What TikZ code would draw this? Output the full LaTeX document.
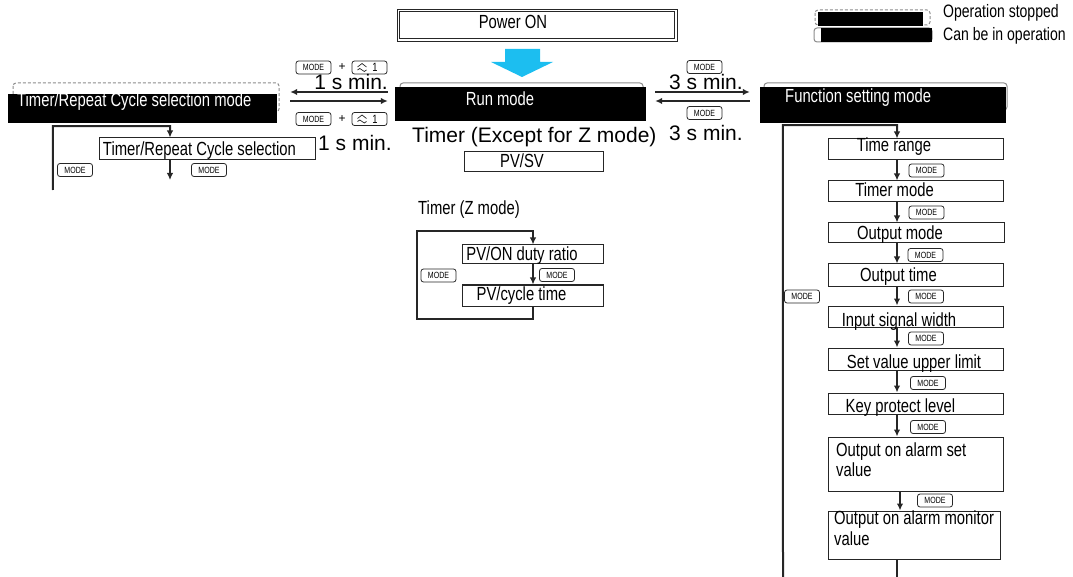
\documentclass[tikz,border=0pt]{standalone}
\usepackage{fontspec}
\setmainfont{Liberation Sans}
\newfontfamily\cond[FakeStretch=0.78]{Liberation Sans}
\usetikzlibrary{arrows.meta,calc}
\definecolor{pwblue}{RGB}{28,190,240}
\begin{document}
\begin{tikzpicture}[x=1pt,y=-1pt,
  lbl/.style={font=\cond\fontsize{19}{20}\selectfont, inner sep=0, anchor=base},
  lblw/.style={lbl, anchor=base west},
  big/.style={font=\fontsize{21}{23}\selectfont, inner sep=0},
  box/.style={draw=black!85, line width=1pt, inner sep=0},
  blk/.style={fill=black, inner sep=0},
  keyb/.style={draw=black!85, line width=0.8pt, rounded corners=2.5pt, minimum width=35pt, minimum height=13pt, inner sep=0, font=\cond\fontsize{9}{9}\selectfont},
  con/.style={line width=2pt, draw=black!85},
  arr/.style={con, -{Latex[length=7pt,width=6.5pt]}},
  gl/.style={draw=black!45, line width=1pt, rounded corners=3pt},
  gld/.style={gl, dash pattern=on 3pt off 2pt},
  sym/.style={line width=0.7pt, draw=black!85},
]
\useasboundingbox (0,0) rectangle (1073,577);

% legend
\draw[gld] (815,10) rectangle (930,25);
\node[blk, minimum width=105pt, minimum height=14pt] (lg1) at (870.5,19) {};
\node[lblw, font=\cond\fontsize{18}{20}\selectfont] (lg1t) at (943,18) {Operation stopped};
\draw[gl] (814,28) rectangle (932,42);
\node[blk, minimum width=111pt, minimum height=14pt] (lg2) at (876.5,35) {};
\node[lblw, font=\cond\fontsize{18}{20}\selectfont] (lg2t) at (943,41) {Can be in operation};

% power on
\node[draw=black!85, line width=0.9pt, minimum width=280pt, minimum height=32pt, inner sep=0] (pw) at (537,25) {};
\draw[black!85, line width=0.9pt] ($(pw.north west)+(3,3)$) rectangle ($(pw.south east)+(-3,-3)$);
\node[lbl] (pwt) at (513,29) {Power ON};
\fill[pwblue] (505,49) -- (540,49) -- (540,62) -- (553,62) -- (522,77) -- (491,62) -- (505,62) -- cycle;

% run mode
\draw[gl] (400,83) rectangle (643,115);
\node[blk, minimum width=251pt, minimum height=34pt] (run) at (520.5,104) {};
\node[lbl, text=white] (runt) at (500,106) {Run mode};
\node[big, anchor=base west] (exc) at (412,143) {Timer (Except for Z mode)};
\node[box, minimum width=139pt, minimum height=20pt] (pvsv) at (533.5,162) {};
\node[lbl] (pvsvt) at (522,168) {PV/SV};

% left mode
\draw[gld] (13,83) rectangle (279,112);
\node[blk, minimum width=269pt, minimum height=29pt] (lm) at (142.5,108.5) {};
\node[lblw, text=white] (lmt) at (17,107) {Timer/Repeat Cycle selection mode};

% left arrows
\draw[arr] ($(run.west)+(-7,-12)$) -- ($(lm.east)+(13,-16.5)$);
\draw[arr] ($(lm.east)+(13,-7.5)$) -- ($(run.west)+(-7,-3)$);
\node[keyb] (k1) at (313.5,67.5) {MODE};
\node[inner sep=0, font=\fontsize{12}{12}\selectfont] (p1) at (342,67.5) {+};
\node[keyb, font=\cond\fontsize{12}{12}\selectfont] (k2) at (369.5,67.5) {\hspace*{11pt}1};
\draw[sym] ($(k2.center)+(-12,-0.5)$) -- ++(4.5,-3.5) -- ++(4.5,3.5);
\draw[sym] ($(k2.center)+(-12,2.5)$) sin ++(2.25,-1.5) cos ++(2.25,1.5) sin ++(2.25,1.5) cos ++(2.25,-1.5);
\node[big, anchor=base east] (t1a) at (388,90) {1 s min.};
\node[keyb] (k3) at (313.5,119) {MODE};
\node[inner sep=0, font=\fontsize{12}{12}\selectfont] (p2) at (342,119) {+};
\node[keyb, font=\cond\fontsize{12}{12}\selectfont] (k4) at (369.5,119) {\hspace*{11pt}1};
\draw[sym] ($(k4.center)+(-12,-0.5)$) -- ++(4.5,-3.5) -- ++(4.5,3.5);
\draw[sym] ($(k4.center)+(-12,2.5)$) sin ++(2.25,-1.5) cos ++(2.25,1.5) sin ++(2.25,1.5) cos ++(2.25,-1.5);
\node[big, anchor=base west] (t1b) at (318,151) {1 s min.};

% left chain
\node[box, minimum width=216pt, minimum height=22pt] (trc) at (207,149) {};
\node[lbl] (trct) at (199.5,156) {Timer/Repeat Cycle selection};
\coordinate (lmc) at ($(lm.south west)+(45,3)$);
\coordinate (lmb) at (53,190);
\coordinate (xc) at (170,0);
\coordinate (trcb) at (170,180);
\draw[arr] (lmb) -- (lmc) -- (lmc -| xc) -- (trc.north -| xc);
\draw[arr] (trc.south -| xc) -- (trcb);
\node[keyb] (k5) at (75,170) {MODE};
\node[keyb] (k6) at (209,170) {MODE};

% right arrows
\draw[gl] (764,83) rectangle (1007,110);
\node[blk, minimum width=246pt, minimum height=36pt] (fs) at (883,105) {};
\node[lblw, text=white] (fst) at (785,103) {Function setting mode};
\draw[arr] ($(run.east)+(9,-12)$) -- ($(fs.west)+(-10,-13)$);
\draw[arr] ($(fs.west)+(-10,-4)$) -- ($(run.east)+(9,-3)$);
\node[keyb] (k7) at (704.5,67) {MODE};
\node[keyb] (k8) at (704.5,113) {MODE};
\node[big, anchor=base west] (t3a) at (669,90) {3 s min.};
\node[big, anchor=base west] (t3b) at (669,141) {3 s min.};

% Z mode
\node[lblw] (zt0) at (418,215) {Timer (Z mode)};
\node[box, minimum width=141pt, minimum height=19pt] (z1) at (532.5,254.5) {};
\node[lbl] (z1t) at (522,261) {PV/ON duty ratio};
\node[box, minimum width=141pt, minimum height=21pt] (z2) at (532.5,295.5) {};
\node[lbl] (z2t) at (521.5,300) {PV/cycle time};
\coordinate (xz) at (533,0);
\coordinate (zt) at (417,231);
\coordinate (zb) at (417,319);
\draw[arr] (z2.south -| xz) -- (xz |- zb) -- (zb) -- (zt) -- (zt -| xz) -- (z1.north -| xz);
\draw[arr] (z1.south -| xz) -- (z2.north -| xz);
\node[keyb] (k9) at (557,275) {MODE};
\node[keyb] (k10) at (438.5,275.5) {MODE};

% function chain
\node[box, minimum width=175pt, minimum height=21pt] (f1) at (915.5,149.5) {};
\node[lbl] (f1t) at (894,152) {Time range};
\node[box, minimum width=175pt, minimum height=21pt] (f2) at (915.5,191.5) {};
\node[lbl] (f2t) at (894.5,197) {Timer mode};
\node[box, minimum width=176pt, minimum height=20pt] (f3) at (916,233) {};
\node[lbl] (f3t) at (900,240) {Output mode};
\node[box, minimum width=175pt, minimum height=22pt] (f4) at (915.5,275) {};
\node[lbl] (f4t) at (898.5,281) {Output time};
\node[box, minimum width=175pt, minimum height=21pt] (f5) at (915.5,316.5) {};
\node[lbl] (f5t) at (899,326) {Input signal width};
\node[box, minimum width=175pt, minimum height=22pt] (f6) at (915.5,359) {};
\node[lbl] (f6t) at (914,368) {Set value upper limit};
\node[box, minimum width=175pt, minimum height=21pt] (f7) at (915.5,403.5) {};
\node[lbl] (f7t) at (900.5,412) {Key protect level};
\node[box, minimum width=175pt, minimum height=54pt] (f8) at (915.5,464) {};
\node[lblw, align=left] (f8t) at (836,476) {Output on alarm set\\value};
\node[box, minimum width=172pt, minimum height=48pt] (f9) at (914,535) {};
\node[lblw, align=left, font=\cond\fontsize{19}{21}\selectfont] (f9t) at (834,545) {Output on alarm monitor\\value};

\coordinate (xa) at (897,0);
\coordinate (xb) at (900,0);
\coordinate (fsb) at (783,577);
\coordinate (fsc) at ($(fs.south west)+(23,2)$);
\draw[arr] (fsb) -- (fsc) -- (fsc -| xa) -- (f1.north -| xa);
\draw[arr] (f1.south -| xa) -- (f2.north -| xa);
\draw[arr] (f2.south -| xa) -- (f3.north -| xa);
\draw[arr] (f3.south -| xa) -- (f4.north -| xa);
\draw[arr] (f4.south -| xa) -- (f5.north -| xa);
\draw[arr] (f5.south -| xa) -- (f6.north -| xa);
\draw[arr] (f6.south -| xa) -- (f7.north -| xa);
\draw[arr] (f7.south -| xa) -- (f8.north -| xa);
\draw[arr] (f8.south -| xb) -- (f9.north -| xb);
\draw[con] (f9.south -| xa) -- (xa |- fsb);
\node[keyb] (m1) at (926.5,170.5) {MODE};
\node[keyb] (m2) at (926.5,212.5) {MODE};
\node[keyb] (m3) at (925.5,255) {MODE};
\node[keyb] (m4) at (926,296.5) {MODE};
\node[keyb] (m5) at (926,338.5) {MODE};
\node[keyb] (m6) at (928,383) {MODE};
\node[keyb] (m7) at (928,427) {MODE};
\node[keyb] (m8) at (935,500.5) {MODE};
\node[keyb] (m9) at (802,296.5) {MODE};
\end{tikzpicture}
\end{document}
